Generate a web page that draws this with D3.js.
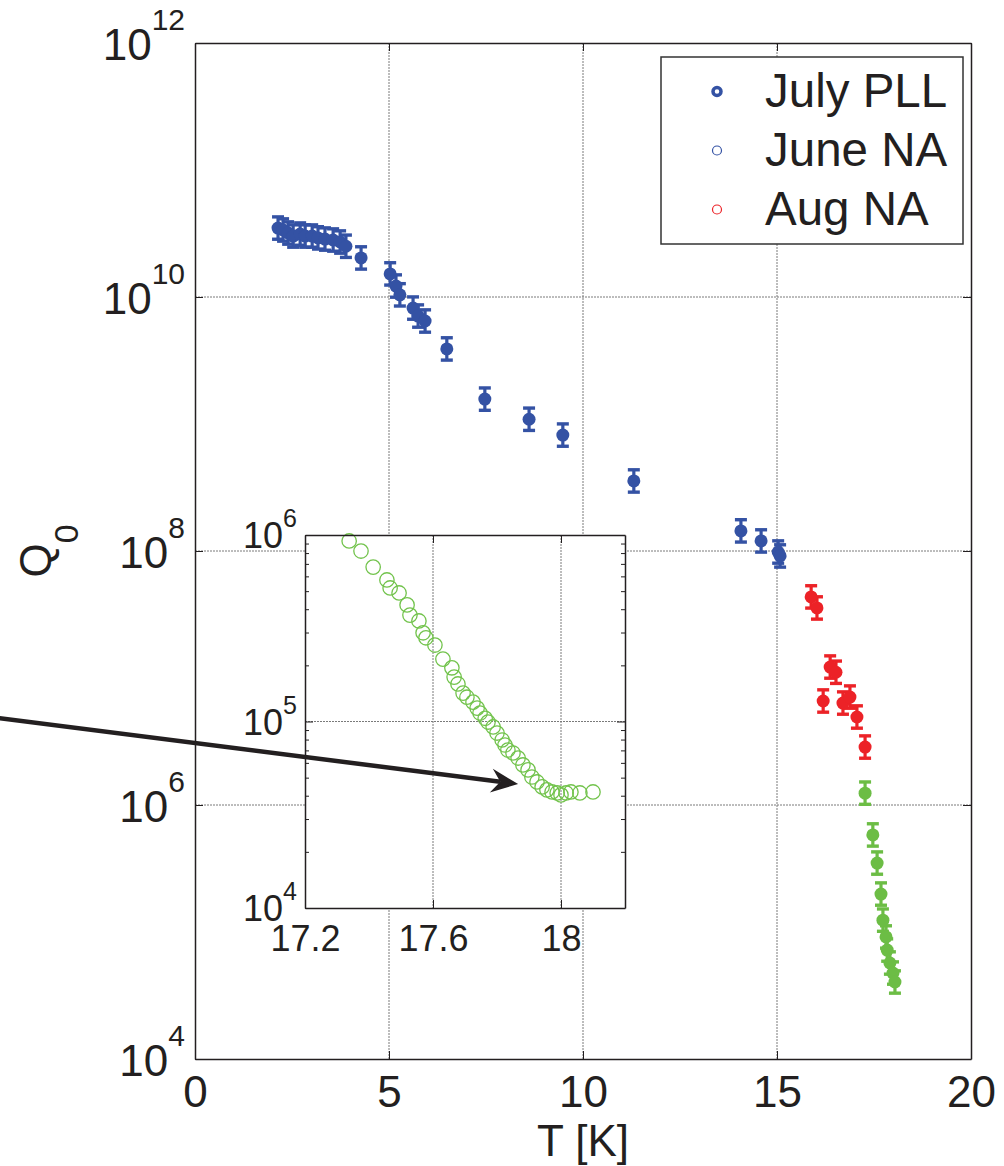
<!DOCTYPE html>
<html><head><meta charset="utf-8">
<script src="https://cdn.jsdelivr.net/npm/d3@7"></script>
<style>
html,body{margin:0;padding:0;background:#fff;}
svg{display:block;font-family:"Liberation Sans",Arial,Helvetica,sans-serif;}
</style></head><body>
<svg id="chart" width="1004" height="1166"></svg>
<script>
// ---- Data: quality factor Q0 versus temperature T [K] ----
const julyT = [2.14, 2.27, 2.40, 2.53, 2.71, 2.84, 3.02, 3.17, 3.35, 3.56, 3.74, 3.89, 4.28,
               5.03, 5.18, 5.28, 5.62, 5.75, 5.93, 6.49, 7.47, 8.61, 9.48, 11.31, 14.07, 14.59, 15.03, 15.08];
const julyQ = [3.49e10, 3.37e10, 3.19e10, 3.02e10, 3.13e10, 3.02e10, 3.02e10, 2.92e10, 2.86e10, 2.81e10, 2.71e10, 2.51e10, 2.03e10,
               1.52e10, 1.22e10, 1.04e10, 8.18e9, 7.08e9, 6.47e9, 3.90e9, 1.57e9, 1.09e9, 8.18e8, 3.56e8, 1.44e8, 1.20e8, 9.82e7, 9.14e7];

const augT = [15.88, 16.03, 16.37, 16.52, 16.19, 16.70, 16.88, 17.06, 17.27];
const augQ = [4.35e7, 3.56e7, 1.22e7, 1.11e7, 6.59e6, 6.35e6, 7.08e6, 4.93e6, 2.86e6];

const juneT = [17.27, 17.47, 17.58, 17.68, 17.73, 17.81, 17.84, 17.91, 17.99, 18.04];
const juneQ = [1.24e6, 5.81e5, 3.49e5, 1.99e5, 1.24e5, 9.14e4, 7.21e4, 5.70e4, 4.75e4, 4.04e4];

// relative uncertainty of each point, in decades (±)
const errDecades = 0.088;

// June NA sweep near the transition (inset)
const insetT = [17.338, 17.375, 17.413, 17.456, 17.466, 17.494, 17.519, 17.528, 17.556, 17.569, 17.578, 17.606,
                17.631, 17.659, 17.666, 17.678, 17.694, 17.706, 17.725, 17.738, 17.747, 17.763, 17.772, 17.788,
                17.800, 17.816, 17.825, 17.834, 17.850, 17.866, 17.881, 17.897, 17.909, 17.925, 17.941, 17.956,
                17.972, 17.988, 18.000, 18.016, 18.031, 18.059, 18.100];
const insetQ = [9.29e5, 8.20e5, 6.73e5, 5.74e5, 5.20e5, 4.89e5, 4.22e5, 3.72e5, 3.46e5, 2.99e5, 2.81e5, 2.57e5,
                2.16e5, 1.94e5, 1.73e5, 1.59e5, 1.42e5, 1.35e5, 1.27e5, 1.18e5, 1.11e5, 1.04e5, 9.93e4, 9.35e4,
                8.67e4, 7.96e4, 7.48e4, 7.03e4, 6.78e4, 6.37e4, 5.85e4, 5.50e4, 5.04e4, 4.74e4, 4.46e4, 4.30e4,
                4.19e4, 4.14e4, 4.04e4, 4.14e4, 4.19e4, 4.14e4, 4.19e4];

// ---- Tick values and labels ----
const xTicks = [0, 5, 10, 15, 20];
const yTicks = [1e4, 1e6, 1e8, 1e10, 1e12];
const insetXTicks = [17.2, 17.6, 18];
const insetXLabels = ["17.2", "17.6", "18"];
const insetYTicks = [1e4, 1e5, 1e6];
const legendLabels = ["July PLL", "June NA", "Aug NA"];

// ---- Styles ----
const BLUE = "#3452a4", RED = "#ec2227", GREEN = "#6cbd45", GREEN_OPEN = "#72c34c";
const AXIS = "#231f20", GRID = "#7a7a7a";

const svg = d3.select("#chart");

// ---- Main axes ----
const M = {left: 195, right: 971, top: 43, bottom: 1059};
const x = d3.scaleLinear().domain([0, 20]).range([M.left, M.right]);
const y = d3.scaleLog().domain([1e4, 1e12]).range([M.bottom, M.top]);

// grid
const grid = svg.append("g").attr("stroke", GRID).attr("stroke-width", 1).attr("stroke-dasharray", "2,1");
grid.selectAll("line.v").data([5, 10, 15]).join("line")
  .attr("x1", d => x(d)).attr("x2", d => x(d)).attr("y1", M.top).attr("y2", M.bottom);
grid.selectAll("line.h").data([1e6, 1e8, 1e10]).join("line")
  .attr("y1", d => y(d)).attr("y2", d => y(d)).attr("x1", M.left).attr("x2", M.right);

// series with error bars
function drawSeries(T, Q, color) {
  const g = svg.append("g").attr("stroke", color).attr("fill", color);
  const pts = T.map((t, i) => ({t, q: Q[i]}));
  const f = Math.pow(10, errDecades);
  const capW = 6;
  pts.forEach(p => {
    const cx = x(p.t), yLo = y(p.q / f), yHi = y(p.q * f);
    g.append("line").attr("x1", cx).attr("x2", cx).attr("y1", yLo).attr("y2", yHi).attr("stroke-width", 3.2);
    g.append("line").attr("x1", cx - capW).attr("x2", cx + capW).attr("y1", yLo).attr("y2", yLo).attr("stroke-width", 3.4);
    g.append("line").attr("x1", cx - capW).attr("x2", cx + capW).attr("y1", yHi).attr("y2", yHi).attr("stroke-width", 3.4);
  });
  g.selectAll("circle").data(pts).join("circle")
    .attr("cx", d => x(d.t)).attr("cy", d => y(d.q)).attr("r", 6.5).attr("stroke", "none");
}
drawSeries(julyT, julyQ, BLUE);
drawSeries(augT, augQ, RED);
drawSeries(juneT, juneQ, GREEN);

// power-of-ten label helper
function powLabels(sel, supSize, supDy) {
  sel.selectAll(".tick text").each(function(d) {
    const t = d3.select(this);
    t.text(null);
    t.append("tspan").text("10");
    t.append("tspan").attr("dy", supDy).attr("font-size", supSize).text(Math.round(Math.log10(d)));
  });
}

function styleAxis(g) {
  g.attr("font-family", null);
  g.select(".domain").attr("stroke", AXIS).attr("stroke-width", 1.5);
  g.selectAll(".tick line").attr("stroke", AXIS).attr("stroke-width", 1);
  g.selectAll(".tick text").attr("fill", "#231f20");
}

const axL = svg.append("g").attr("transform", `translate(${M.left},0)`)
  .call(d3.axisLeft(y).tickValues(yTicks).tickSize(-8).tickSizeOuter(0).tickPadding(10))
  .attr("font-size", 44);
styleAxis(axL);
axL.selectAll(".tick text").attr("dy", "0.37em");
powLabels(axL, 30, -30);

const axR = svg.append("g").attr("transform", `translate(${M.right},0)`)
  .call(d3.axisRight(y).tickValues(yTicks).tickSize(-8).tickSizeOuter(0).tickFormat(""));
styleAxis(axR);

const axB = svg.append("g").attr("transform", `translate(0,${M.bottom})`)
  .call(d3.axisBottom(x).tickValues(xTicks).tickSize(-8).tickSizeOuter(0).tickPadding(17).tickFormat(d3.format("d")))
  .attr("font-size", 44);
styleAxis(axB);

const axT = svg.append("g").attr("transform", `translate(0,${M.top})`)
  .call(d3.axisTop(x).tickValues(xTicks).tickSize(-8).tickSizeOuter(0).tickFormat(""));
styleAxis(axT);

// axis titles
svg.append("text").attr("x", (M.left + M.right) / 2).attr("y", 1156)
  .attr("text-anchor", "middle").attr("font-size", 44).attr("fill", "#231f20").text("T [K]");
const yl = svg.append("text").attr("transform", `translate(51,${(M.top + M.bottom) / 2}) rotate(-90)`)
  .attr("text-anchor", "middle").attr("font-size", 44).attr("fill", "#231f20");
yl.append("tspan").text("Q");
yl.append("tspan").attr("font-size", 34).attr("dy", 27).text("0");

// ---- Legend ----
const L = {x: 661, y: 57, w: 302, h: 187};
const lg = svg.append("g");
lg.append("rect").attr("x", L.x).attr("y", L.y).attr("width", L.w).attr("height", L.h)
  .attr("fill", "#fff").attr("stroke", "#333").attr("stroke-width", 1.5);
const legendMarks = [
  {stroke: BLUE, r: 4, sw: 3.5},
  {stroke: BLUE, r: 4.5, sw: 1.2},
  {stroke: RED, r: 4.5, sw: 1.2}
];
legendLabels.forEach((lab, i) => {
  const cy = 91.5 + i * 59;
  lg.append("circle").attr("cx", 717).attr("cy", cy).attr("r", legendMarks[i].r)
    .attr("fill", "#fff").attr("stroke", legendMarks[i].stroke).attr("stroke-width", legendMarks[i].sw);
  lg.append("text").attr("x", 765).attr("y", cy + 15).attr("font-size", 47.5).attr("fill", "#231f20").text(lab);
});

// ---- Inset ----
const I = {left: 305, right: 625, top: 535, bottom: 908};
const xi = d3.scaleLinear().domain([17.2, 18.2]).range([I.left, I.right]);
const yi = d3.scaleLog().domain([1e4, 1e6]).range([I.bottom, I.top]);
const ins = svg.append("g");
ins.append("rect").attr("x", I.left).attr("y", I.top).attr("width", I.right - I.left).attr("height", I.bottom - I.top)
  .attr("fill", "#fff");
const ig = ins.append("g").attr("stroke", GRID).attr("stroke-width", 1).attr("stroke-dasharray", "2,1");
ig.selectAll("line.v").data([17.6, 18]).join("line")
  .attr("x1", d => xi(d)).attr("x2", d => xi(d)).attr("y1", I.top).attr("y2", I.bottom);
ig.selectAll("line.h").data([1e5]).join("line")
  .attr("y1", d => yi(d)).attr("y2", d => yi(d)).attr("x1", I.left).attr("x2", I.right);

ins.append("g").selectAll("circle").data(insetT.map((t, i) => ({t, q: insetQ[i]}))).join("circle")
  .attr("cx", d => xi(d.t)).attr("cy", d => yi(d.q)).attr("r", 7.2)
  .attr("fill", "none").attr("stroke", GREEN_OPEN).attr("stroke-width", 1.3);

const minorY = [];
[1e4, 1e5].forEach(b => { for (let k = 2; k <= 9; k++) minorY.push(b * k); });

const iaL = ins.append("g").attr("transform", `translate(${I.left},0)`)
  .call(d3.axisLeft(yi).tickValues(insetYTicks).tickSize(-8).tickSizeOuter(0).tickPadding(8))
  .attr("font-size", 36);
styleAxis(iaL);
iaL.selectAll(".tick text").attr("dy", "0.36em");
powLabels(iaL, 25, -21);
const iaLm = ins.append("g").attr("transform", `translate(${I.left},0)`)
  .call(d3.axisLeft(yi).tickValues(minorY).tickSize(-4).tickSizeOuter(0).tickFormat(""));
styleAxis(iaLm); iaLm.select(".domain").remove();

const iaR = ins.append("g").attr("transform", `translate(${I.right},0)`)
  .call(d3.axisRight(yi).tickValues(insetYTicks).tickSize(-8).tickSizeOuter(0).tickFormat(""));
styleAxis(iaR);
const iaRm = ins.append("g").attr("transform", `translate(${I.right},0)`)
  .call(d3.axisRight(yi).tickValues(minorY).tickSize(-4).tickSizeOuter(0).tickFormat(""));
styleAxis(iaRm); iaRm.select(".domain").remove();

const iaB = ins.append("g").attr("transform", `translate(0,${I.bottom})`)
  .call(d3.axisBottom(xi).tickValues(insetXTicks).tickSize(-8).tickSizeOuter(0).tickPadding(17)
    .tickFormat((d, i) => insetXLabels[i]))
  .attr("font-size", 36);
styleAxis(iaB);
const iaT = ins.append("g").attr("transform", `translate(0,${I.top})`)
  .call(d3.axisTop(xi).tickValues(insetXTicks).tickSize(-8).tickSizeOuter(0).tickFormat(""));
styleAxis(iaT);

// ---- Arrow pointing at the flattening of Q0 near 18 K ----
(function drawArrow() {
  const tip = [xi(17.866), yi(4.62e4)];
  const tail = [-10, 717];
  const dx = tip[0] - tail[0], dy = tip[1] - tail[1];
  const len = Math.hypot(dx, dy);
  const u = [dx / len, dy / len], n = [-u[1], u[0]];
  const headL = 27, headW = 12, notch = 9;
  const back = [tip[0] - headL * u[0], tip[1] - headL * u[1]];
  const notchPt = [tip[0] - (headL - notch) * u[0], tip[1] - (headL - notch) * u[1]];
  svg.append("line").attr("x1", tail[0]).attr("y1", tail[1]).attr("x2", notchPt[0]).attr("y2", notchPt[1])
    .attr("stroke", "#231f20").attr("stroke-width", 4.5);
  svg.append("path")
    .attr("d", d3.line()([tip, [back[0] + headW * n[0], back[1] + headW * n[1]], notchPt,
                          [back[0] - headW * n[0], back[1] - headW * n[1]]]) + "Z")
    .attr("fill", "#231f20");
})();
</script>
</body></html>
